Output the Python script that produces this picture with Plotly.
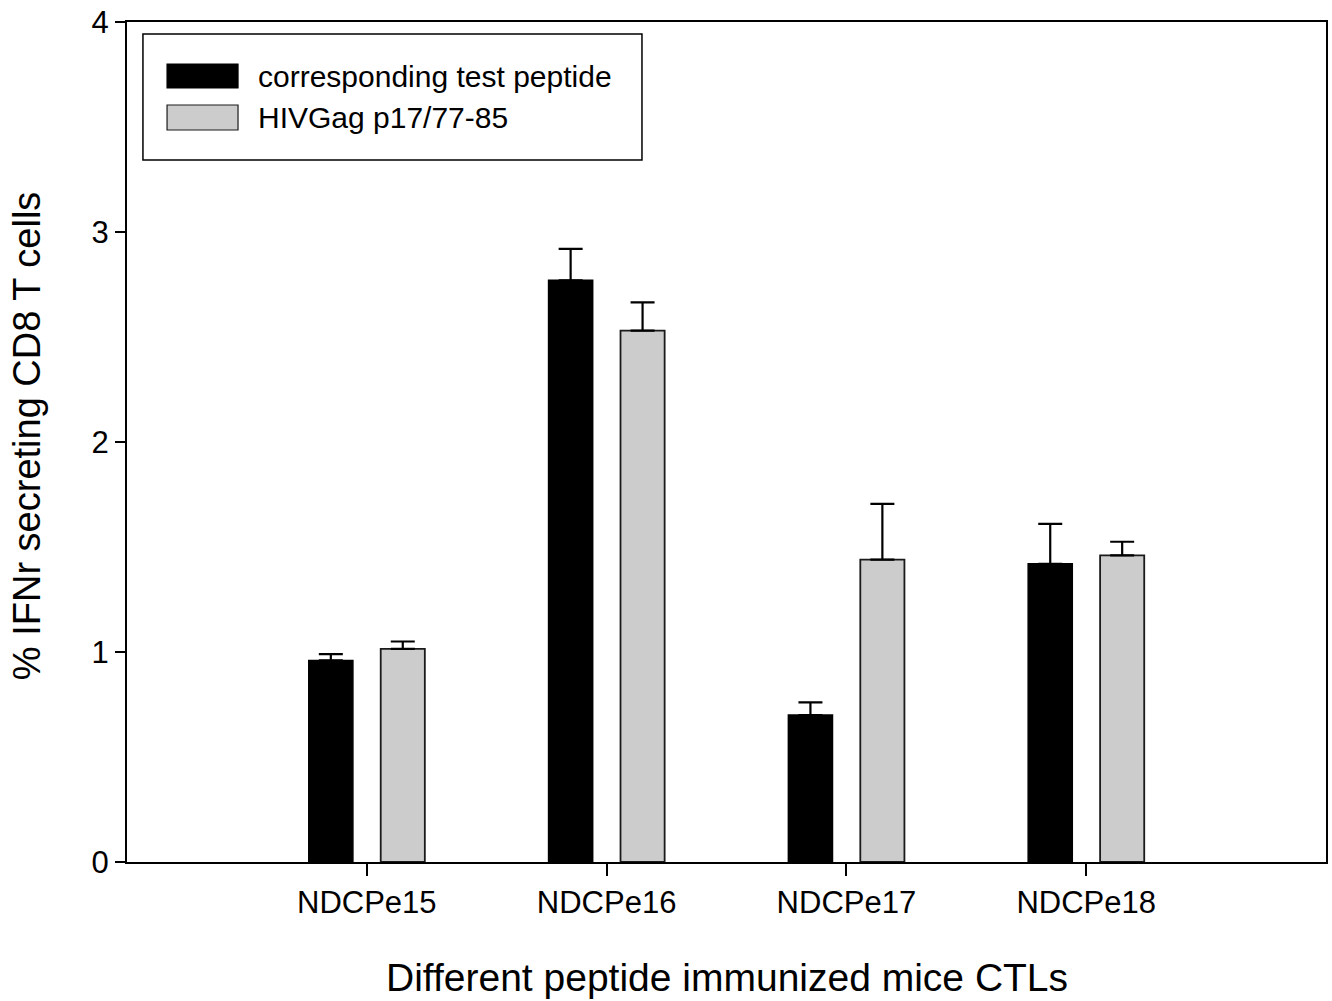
import plotly.graph_objects as go

categories = ["NDCPe15", "NDCPe16", "NDCPe17", "NDCPe18"]
test_peptide = [0.96, 2.77, 0.70, 1.42]
test_peptide_err = [0.03, 0.15, 0.06, 0.19]
hiv_gag = [1.015, 2.53, 1.44, 1.46]
hiv_gag_err = [0.035, 0.135, 0.265, 0.065]
series_names = ["corresponding test peptide", "HIVGag p17/77-85"]
y_ticks = [0, 1, 2, 3, 4]
x_title = "Different peptide immunized mice CTLs"
y_title = "% IFNr secreting CD8 T cells"

pos = list(range(len(categories)))
FONT = "Liberation Sans, Arial, sans-serif"

fig = go.Figure()
fig.add_trace(go.Bar(
    x=pos, y=test_peptide, name=series_names[0],
    offset=-0.242, width=0.184,
    marker=dict(color="#000000", line=dict(color="#000000", width=1.5)),
    error_y=dict(type="data", array=test_peptide_err, symmetric=False,
                 arrayminus=[0] * len(categories), color="#000000",
                 thickness=2.2, width=12),
    showlegend=False,
))
fig.add_trace(go.Bar(
    x=pos, y=hiv_gag, name=series_names[1],
    offset=0.058, width=0.184,
    marker=dict(color="#cccccc", line=dict(color="#1a1a1a", width=1.8)),
    error_y=dict(type="data", array=hiv_gag_err, symmetric=False,
                 arrayminus=[0] * len(categories), color="#000000",
                 thickness=2.2, width=12),
    showlegend=False,
))

# custom legend (box + swatches + labels) in paper coordinates
shapes = [
    dict(type="rect", xref="paper", yref="paper", x0=0.0133, x1=0.4295,
         y0=0.8357, y1=0.9857, line=dict(color="#000000", width=1.5),
         fillcolor="rgba(0,0,0,0)"),
    dict(type="rect", xref="paper", yref="paper", x0=0.0334, x1=0.0926,
         y0=0.9214, y1=0.95, line=dict(color="#000000", width=1.2),
         fillcolor="#000000"),
    dict(type="rect", xref="paper", yref="paper", x0=0.0334, x1=0.0926,
         y0=0.8714, y1=0.9012, line=dict(color="#1a1a1a", width=1.2),
         fillcolor="#cccccc"),
]
annotations = [
    dict(xref="paper", yref="paper", x=0.1076, y=0.9357, text=series_names[0],
         showarrow=False, xanchor="left", yanchor="middle",
         font=dict(family=FONT, size=30, color="#000000")),
    dict(xref="paper", yref="paper", x=0.1076, y=0.8869, text=series_names[1],
         showarrow=False, xanchor="left", yanchor="middle",
         font=dict(family=FONT, size=30, color="#000000")),
    dict(xref="paper", yref="paper", x=0.5004, y=-0.138, text=x_title,
         showarrow=False, xanchor="center", yanchor="middle",
         font=dict(family=FONT, size=39, color="#000000")),
    dict(xref="paper", yref="paper", x=-0.0835, y=0.508, text=y_title,
         showarrow=False, xanchor="center", yanchor="middle", textangle=-90,
         font=dict(family=FONT, size=38, color="#000000")),
]

fig.update_layout(
    width=1332, height=1001,
    margin=dict(l=127, r=6, t=22, b=139),
    plot_bgcolor="#ffffff", paper_bgcolor="#ffffff",
    barmode="overlay",
    font=dict(family=FONT, color="#000000"),
    shapes=shapes, annotations=annotations,
    xaxis=dict(
        range=[-1.0, 4.0], tickvals=pos, ticktext=categories,
        showline=True, linecolor="#000000", linewidth=2, mirror=True,
        ticks="outside", ticklen=12, tickwidth=2, tickcolor="#000000",
        showgrid=False, zeroline=False, automargin=False,
        tickfont=dict(family=FONT, size=31),
    ),
    yaxis=dict(
        range=[0, 4], tickvals=y_ticks,
        showline=True, linecolor="#000000", linewidth=2, mirror=True,
        ticks="outside", ticklen=10, tickwidth=2, tickcolor="#000000",
        showgrid=False, zeroline=False, automargin=False,
        tickfont=dict(family=FONT, size=31),
    ),
)

fig.write_html(
    "out.html",
    config={"displayModeBar": False},
    post_script="document.body.style.margin='0';document.body.style.overflow='hidden';",
)
